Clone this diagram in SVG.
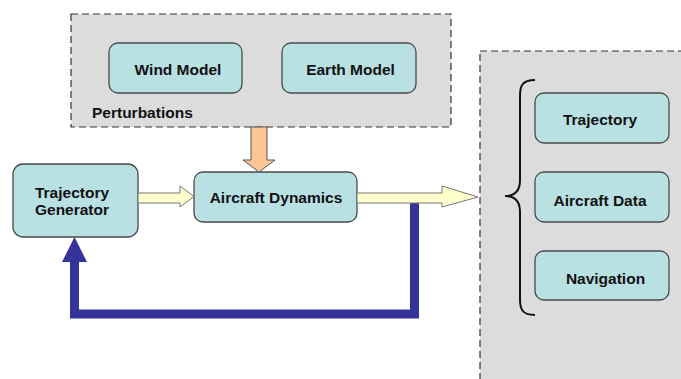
<svg xmlns="http://www.w3.org/2000/svg" width="681" height="379" viewBox="0 0 681 379">
<style>
.grp{fill:#dcdcdc;stroke:#333;stroke-width:1.2;stroke-dasharray:7,4}
.box{fill:#b9e0e3;stroke:#4a4a4a;stroke-width:1.3}
.t{font-family:"Liberation Sans",Arial,sans-serif;font-weight:bold;font-size:15.5px;fill:#111;text-anchor:middle}
.tl{font-family:"Liberation Sans",Arial,sans-serif;font-weight:bold;font-size:15.5px;fill:#111}
.ya{fill:#ffffcc;stroke:#777;stroke-width:1}
.oa{fill:#fdc596;stroke:#555;stroke-width:1}
.fb{fill:none;stroke:#333399;stroke-width:9}
</style>
<rect width="681" height="379" fill="#fff"/>
<g id="perturbations">
<rect class="grp" x="71" y="14" width="380" height="113"/>
<text class="tl" x="92" y="118">Perturbations</text>
</g>
<g id="outputs">
<rect class="grp" x="480" y="51" width="215" height="340"/>
<path d="M535,80 C522,80 520,86 520,96 L520,180 C520,190 516,196 505,196 C516,196 520,202 520,212 L520,299 C520,309 522,315 535,315" fill="none" stroke="#111" stroke-width="2"/>
</g>
<g id="wind-model"><rect class="box" x="109" y="43" width="133" height="50" rx="9"/><text class="t" x="178" y="74.5">Wind Model</text></g>
<g id="earth-model"><rect class="box" x="282" y="43" width="134" height="50" rx="9"/><text class="t" x="350.5" y="74.5">Earth Model</text></g>
<g id="trajectory-generator"><rect class="box" x="13" y="164" width="125" height="73" rx="10"/><text class="t" x="72" y="197.5">Trajectory</text><text class="t" x="72" y="214.5">Generator</text></g>
<g id="aircraft-dynamics"><rect class="box" x="194" y="172" width="163" height="50" rx="9"/><text class="t" x="276" y="202.5">Aircraft Dynamics</text></g>
<g id="trajectory"><rect class="box" x="535" y="93" width="134" height="50" rx="9"/><text class="t" x="600" y="124.5">Trajectory</text></g>
<g id="aircraft-data"><rect class="box" x="535" y="172" width="134" height="50" rx="9"/><text class="t" x="600" y="205.5">Aircraft Data</text></g>
<g id="navigation"><rect class="box" x="535" y="251" width="134" height="49" rx="9"/><text class="t" x="605.5" y="283.5">Navigation</text></g>
<g id="connectors">
<polygon class="oa" points="251,127 267,127 267,160 275,160 259,172 243,160 251,160"/>
<polygon class="ya" points="138,193 180,193 180,186 194,196.5 180,207 180,203 138,203"/>
<polyline class="fb" points="414.5,203 414.5,314 74.5,314 74.5,260"/>
<polygon class="ya" points="357,193 442,193 442,186 478,197 442,207 442,203 357,203"/>
<polygon points="62,262 87,262 74.5,237" fill="#333399"/>
</g>
</svg>
